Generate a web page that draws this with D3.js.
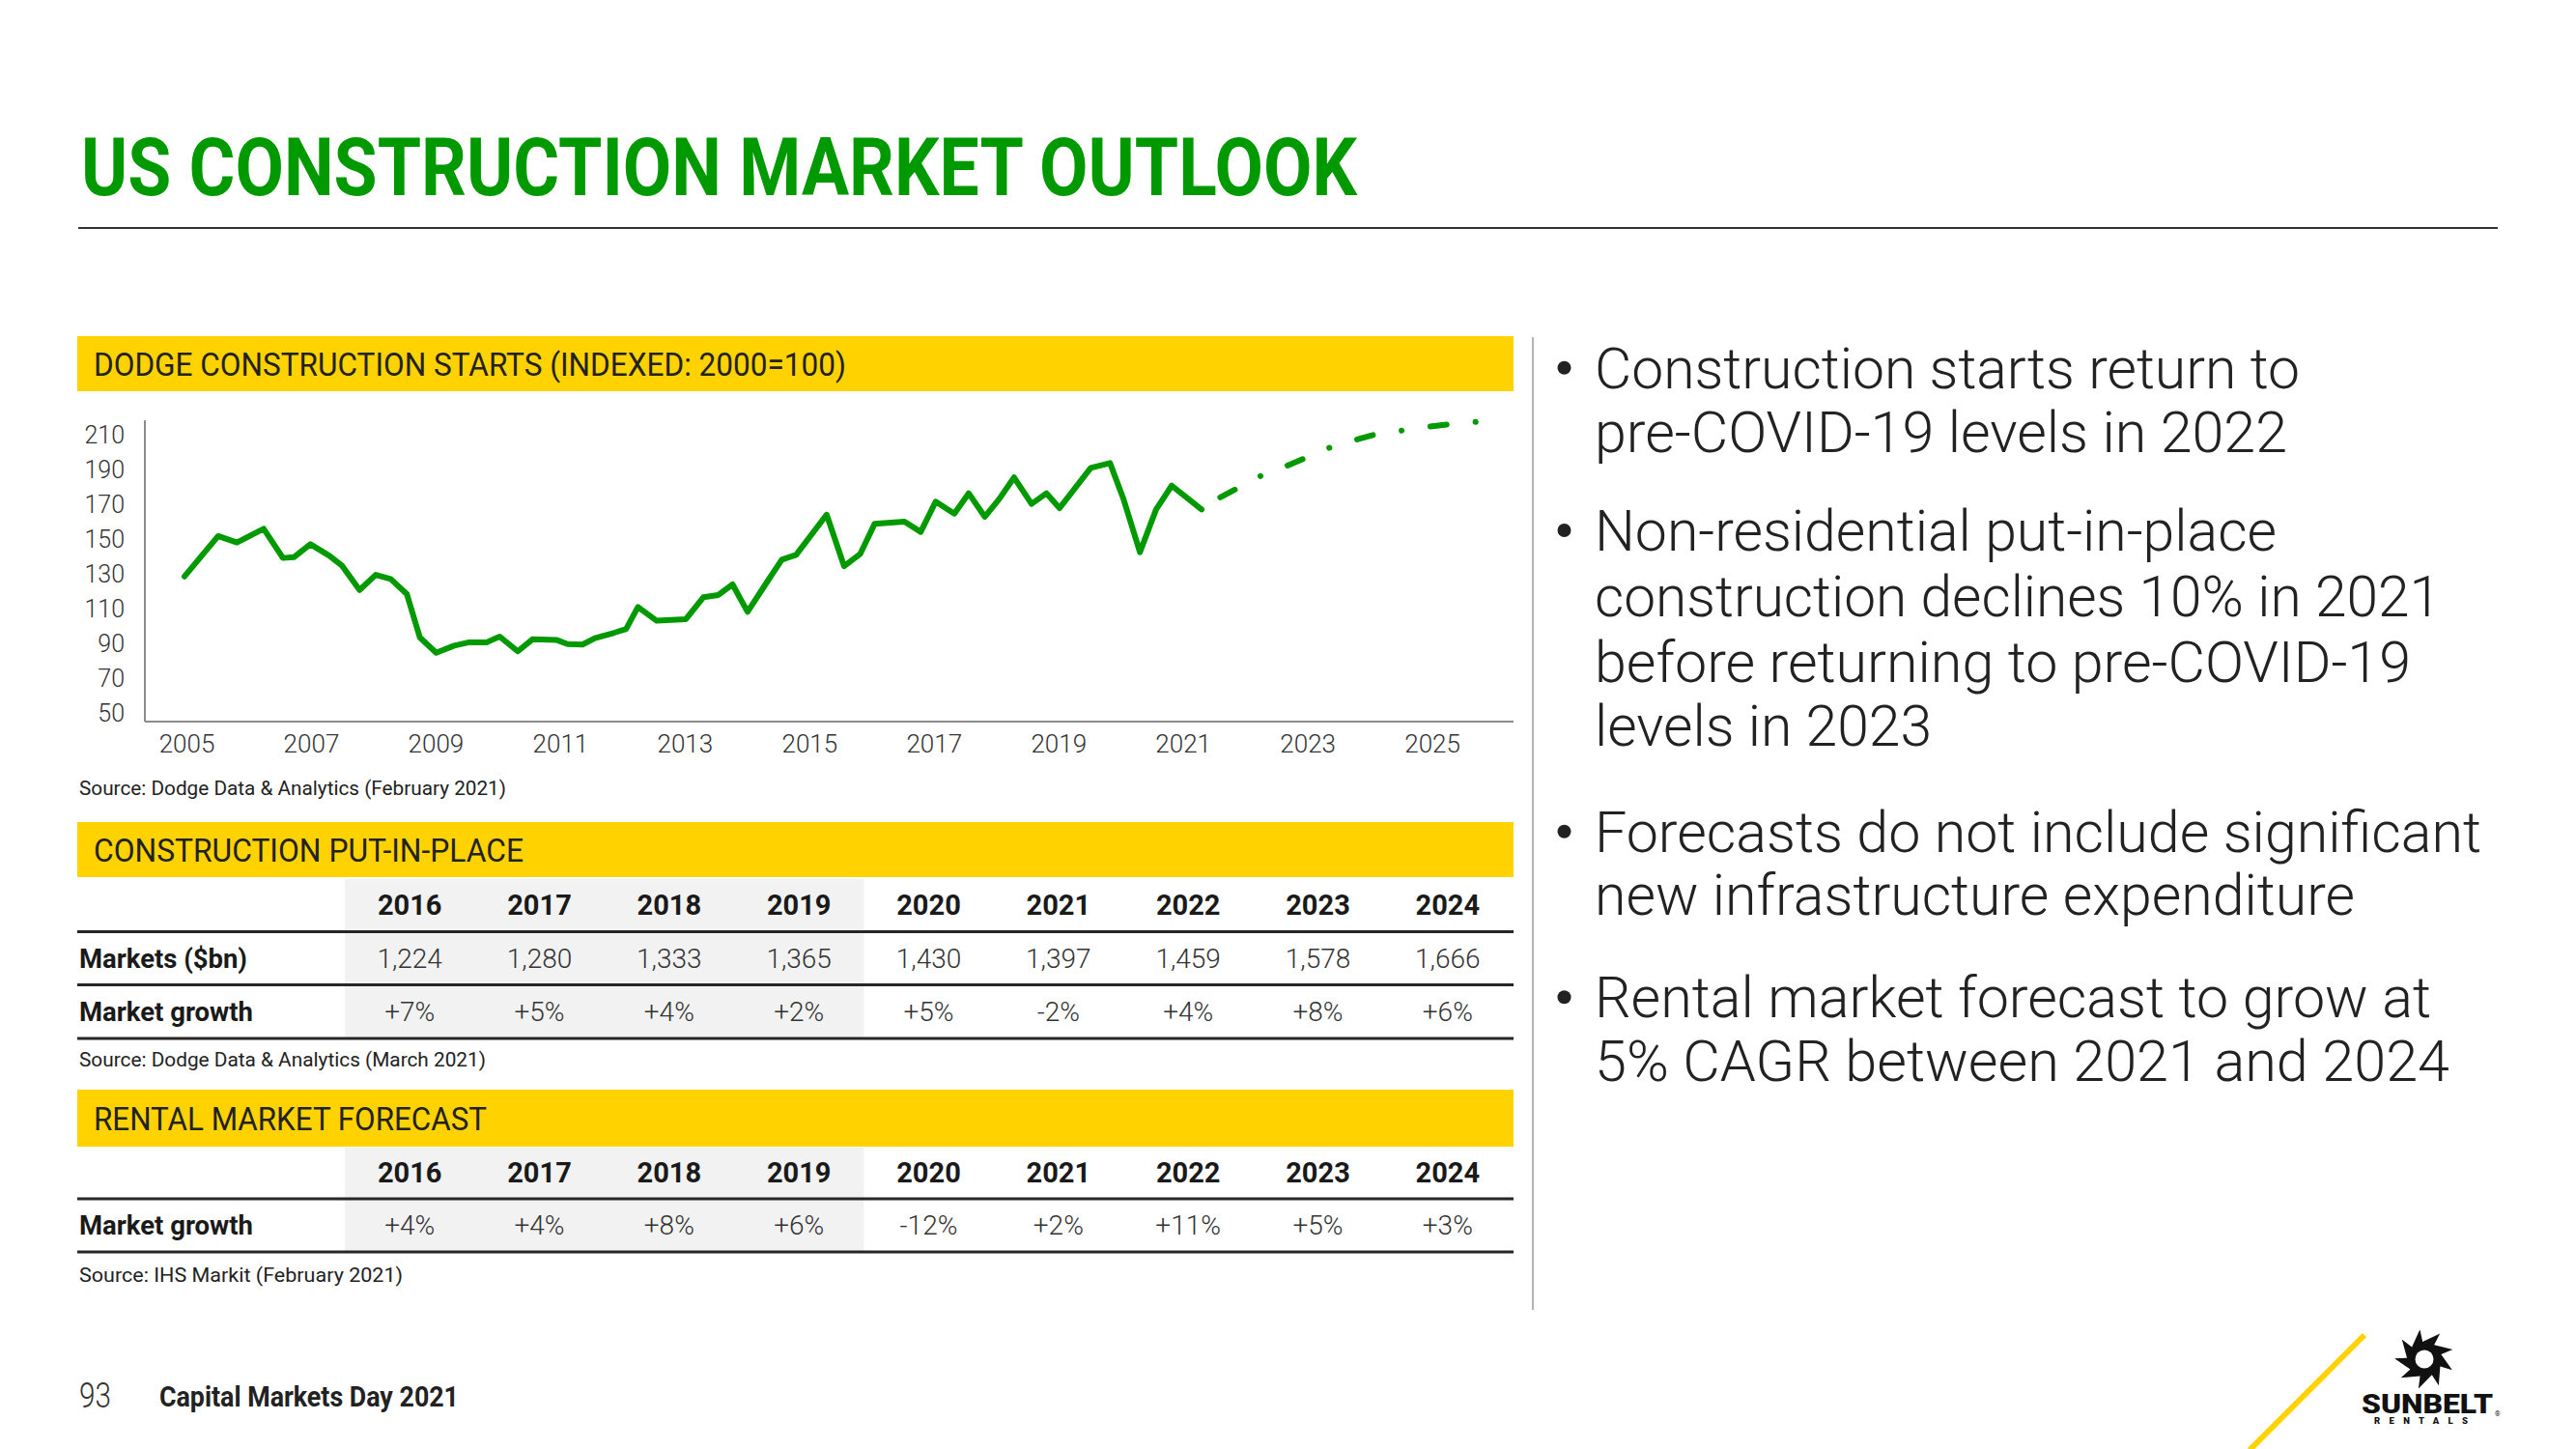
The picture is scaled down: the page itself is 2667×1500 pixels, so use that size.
<!DOCTYPE html>
<html><head><meta charset="utf-8">
<script src="https://cdn.jsdelivr.net/npm/d3@7"></script>
<style>
html,body{margin:0;padding:0;background:#fff;}
svg{display:block;font-family:Roboto,"Noto Sans",sans-serif;}
</style></head><body>
<svg id="c" width="2667" height="1500"></svg>
<script>
// ---------------- DATA ----------------
const startsYears = [2004.97,2005.51,2005.81,2006.24,2006.55,2006.73,2006.99,2007.29,2007.50,2007.78,2008.04,2008.28,2008.54,2008.75,2009.01,2009.30,2009.54,2009.82,2010.03,2010.32,2010.56,2010.95,2011.12,2011.36,2011.56,2011.87,2012.06,2012.25,2012.55,2013.02,2013.30,2013.54,2013.77,2014.01,2014.33,2014.56,2014.79,2015.28,2015.56,2015.82,2016.05,2016.53,2016.79,2017.03,2017.33,2017.56,2017.82,2018.05,2018.29,2018.57,2018.81,2019.02,2019.52,2019.83,2020.05,2020.31,2020.57,2020.82,2021.30];
const startsValues = [128.5,151.7,148.0,155.9,139.1,139.6,147.0,140.5,134.6,120.7,129.4,127.0,118.3,93.3,84.6,88.7,90.6,90.6,93.9,85.4,92.4,91.9,89.6,89.3,93.0,96.1,98.3,110.9,103.0,103.9,116.5,117.8,123.9,108.1,125.7,138.1,140.9,164.0,134.4,141.5,158.7,160.0,154.1,171.5,164.6,176.3,162.8,173.0,185.4,170.2,176.3,167.8,190.9,193.7,172.6,142.4,167.0,180.7,167.0];
const forecastYears = [2021.60,2021.90,2022.26,2022.65,2022.96,2023.36,2023.76,2024.09,2024.52,2024.94,2025.26,2025.71];
const forecastValues = [174.0,179.6,186.5,191.8,196.5,202.6,206.9,210.2,212.4,214.6,216.0,217.4];
const yTicks = [50,70,90,110,130,150,170,190,210];
const xTicks = [2005,2007,2009,2011,2013,2015,2017,2019,2021,2023,2025];

const tableYears = ["2016","2017","2018","2019","2020","2021","2022","2023","2024"];
const historicYears = ["2016","2017","2018","2019"];
const marketsBn = ["1,224","1,280","1,333","1,365","1,430","1,397","1,459","1,578","1,666"];
const marketGrowth = ["+7%","+5%","+4%","+2%","+5%","-2%","+4%","+8%","+6%"];
const rentalGrowth = ["+4%","+4%","+8%","+6%","-12%","+2%","+11%","+5%","+3%"];

const titleText = "US CONSTRUCTION MARKET OUTLOOK";
const chartHeader = "DODGE CONSTRUCTION STARTS (INDEXED: 2000=100)";
const table1Header = "CONSTRUCTION PUT-IN-PLACE";
const table2Header = "RENTAL MARKET FORECAST";
const chartSource = "Source: Dodge Data & Analytics (February 2021)";
const table1Source = "Source: Dodge Data & Analytics (March 2021)";
const table2Source = "Source: IHS Markit (February 2021)";
const bullets = [
  ["Construction starts return to","pre-COVID-19 levels in 2022"],
  ["Non-residential put-in-place","construction declines 10% in 2021","before returning to pre-COVID-19","levels in 2023"],
  ["Forecasts do not include significant","new infrastructure expenditure"],
  ["Rental market forecast to grow at","5% CAGR between 2021 and 2024"]
];
const pageNumber = "93";
const footerText = "Capital Markets Day 2021";

// ---------------- LAYOUT ----------------
const GREEN = "#009a00", YELLOW = "#ffd200", DARK = "#222222";
const svg = d3.select("#c");

// Title
svg.append("text").attr("x",84).attr("y",202).attr("font-size",83).attr("font-weight",700)
  .attr("fill",GREEN).attr("textLength",1321).attr("lengthAdjust","spacingAndGlyphs").text(titleText);
svg.append("line").attr("x1",81).attr("x2",2586).attr("y1",236).attr("y2",236)
  .attr("stroke","#333").attr("stroke-width",2);

// Separator
svg.append("line").attr("x1",1587).attr("x2",1587).attr("y1",349).attr("y2",1356)
  .attr("stroke","#9a9a9a").attr("stroke-width",1.5);

// Header bars
function headerBar(y0,y1,txt,baseline,width){
  svg.append("rect").attr("x",80).attr("y",y0).attr("width",1487).attr("height",y1-y0).attr("fill",YELLOW);
  svg.append("text").attr("x",97).attr("y",baseline).attr("font-size",33).attr("fill",DARK)
    .attr("textLength",width).attr("lengthAdjust","spacingAndGlyphs").text(txt);
}
headerBar(348,405,chartHeader,388.5,779);
headerBar(851,908,table1Header,891.5,445);
headerBar(1128,1187,table2Header,1170,407);

// ---------------- LINE CHART ----------------
const x = d3.scaleLinear().domain([2005,2025]).range([193,1482.6]);
const y = d3.scaleLinear().domain([45,210]).range([747,450]);

svg.append("line").attr("x1",150).attr("x2",150).attr("y1",435).attr("y2",747).attr("stroke","#8c8c8c").attr("stroke-width",2);
svg.append("line").attr("x1",150).attr("x2",1567).attr("y1",747).attr("y2",747).attr("stroke","#8c8c8c").attr("stroke-width",2);

const yAxis = svg.append("g").attr("transform","translate(150,0)")
  .call(d3.axisLeft(y).tickValues(yTicks).tickSize(0).tickPadding(21));
yAxis.select(".domain").remove();
yAxis.selectAll("text").attr("font-size",25).attr("font-weight",300).attr("fill","#333").attr("font-family","Roboto");

const xAxis = svg.append("g").attr("transform","translate(0,747)")
  .call(d3.axisBottom(x).tickValues(xTicks).tickFormat(d3.format("d")).tickSize(0).tickPadding(14));
xAxis.select(".domain").remove();
xAxis.selectAll("text").attr("font-size",26).attr("font-weight",300).attr("fill","#333").attr("font-family","Roboto");

const line = d3.line().x(d=>x(d[0])).y(d=>y(d[1]));
svg.append("path").datum(d3.zip(startsYears,startsValues)).attr("d",line)
  .attr("fill","none").attr("stroke",GREEN).attr("stroke-width",6)
  .attr("stroke-linejoin","round").attr("stroke-linecap","round");
svg.append("path").datum(d3.zip(forecastYears,forecastValues)).attr("d",line)
  .attr("fill","none").attr("stroke",GREEN).attr("stroke-width",6)
  .attr("stroke-linecap","round").attr("stroke-dasharray","17,30,0.1,30");

svg.append("text").attr("x",82).attr("y",822.5).attr("font-size",20).attr("fill",DARK)
  .attr("textLength",442).attr("lengthAdjust","spacingAndGlyphs").text(chartSource);

// ---------------- TABLES ----------------
const col = d3.scaleBand().domain(tableYears).range([357,1566]);
const cx = d => col(d)+col.bandwidth()/2;

function table(bandTop,bandBottom,yearBase,rows,lines,source,sourceBase,sourceW){
  svg.append("rect").attr("x",col(historicYears[0])).attr("y",bandTop)
    .attr("width",col.bandwidth()*historicYears.length).attr("height",bandBottom-bandTop).attr("fill","#f2f2f2");
  svg.selectAll(null).data(tableYears).enter().append("text")
    .attr("x",cx).attr("y",yearBase).attr("text-anchor","middle").attr("font-size",29)
    .attr("font-weight",700).attr("fill","#1a1a1a").text(d=>d);
  rows.forEach(r=>{
    svg.append("text").attr("x",82).attr("y",r.base).attr("font-size",28).attr("font-weight",700)
      .attr("fill","#1a1a1a").attr("textLength",r.w).attr("lengthAdjust","spacingAndGlyphs").text(r.label);
    svg.selectAll(null).data(r.values).enter().append("text")
      .attr("x",(d,i)=>cx(tableYears[i])).attr("y",r.base).attr("text-anchor","middle")
      .attr("font-size",28).attr("font-weight",300).attr("fill","#333").text(d=>d);
  });
  lines.forEach(ly=>{
    svg.append("line").attr("x1",80).attr("x2",1567).attr("y1",ly).attr("y2",ly)
      .attr("stroke","#262626").attr("stroke-width",3);
  });
  svg.append("text").attr("x",82).attr("y",sourceBase).attr("font-size",20).attr("fill",DARK)
    .attr("textLength",sourceW).attr("lengthAdjust","spacingAndGlyphs").text(source);
}
table(910,1074,946.5,[
  {label:"Markets ($bn)",values:marketsBn,base:1001.5,w:174},
  {label:"Market growth",values:marketGrowth,base:1056.5,w:180}
],[964.5,1019.5,1075],table1Source,1104,421);
table(1188,1295,1223.5,[
  {label:"Market growth",values:rentalGrowth,base:1278,w:180}
],[1241,1296],table2Source,1327,335);

// ---------------- BULLETS ----------------
const bulletWidths = [[730,717],[706,876,845,349],[918,787],[866,885]];
const bulletBases = [[401.7,467.7],[570,637.7,705.7,771.7],[881.7,946.7],[1053.3,1119.3]];
bullets.forEach((b,i)=>{
  svg.append("circle").attr("cx",1619.5).attr("cy",bulletBases[i][0]-21).attr("r",7).attr("fill",DARK);
  b.forEach((t,j)=>{
    svg.append("text").attr("x",1651).attr("y",bulletBases[i][j]).attr("font-size",58.5)
      .attr("font-weight",300).attr("fill",DARK).attr("textLength",bulletWidths[i][j])
      .attr("lengthAdjust","spacingAndGlyphs").text(t);
  });
});

// ---------------- FOOTER ----------------
svg.append("text").attr("x",82).attr("y",1456.5).attr("font-size",36).attr("font-weight",300)
  .attr("fill","#333").attr("textLength",33).attr("lengthAdjust","spacingAndGlyphs").text(pageNumber);
svg.append("text").attr("x",165).attr("y",1456).attr("font-size",29).attr("font-weight",700)
  .attr("fill","#222").attr("textLength",310).attr("lengthAdjust","spacingAndGlyphs").text(footerText);

// Logo
svg.append("line").attr("x1",2329).attr("y1",1501).attr("x2",2448).attr("y2",1382)
  .attr("stroke",YELLOW).attr("stroke-width",6);
const sawPts = [];
const cxS = 2510, cyS = 1407, R = 31, r = 18;
for(let i=0;i<9;i++){
  const a = -Math.PI/2 - 0.15 + i*2*Math.PI/9;
  sawPts.push([cxS+R*Math.cos(a), cyS+R*Math.sin(a)]);
  sawPts.push([cxS+r*Math.cos(a+0.05), cyS+r*Math.sin(a+0.05)]);
}
svg.append("path").attr("d","M"+sawPts.map(p=>p.join(",")).join("L")+"Z").attr("fill","#111");
svg.append("circle").attr("cx",cxS).attr("cy",cyS).attr("r",9.5).attr("fill","#fff");
svg.append("text").attr("x",2445).attr("y",1463).attr("font-size",27).attr("font-weight",900)
  .attr("fill","#111").attr("textLength",136).attr("lengthAdjust","spacingAndGlyphs").text("SUNBELT");
svg.append("text").attr("x",2583).attr("y",1466).attr("font-size",7).attr("fill","#111").text("®");
svg.append("text").attr("x",2458).attr("y",1474).attr("font-size",9.5).attr("font-weight",900)
  .attr("fill","#111").attr("textLength",97).attr("lengthAdjust","spacing").text("RENTALS");
</script>
</body></html>
